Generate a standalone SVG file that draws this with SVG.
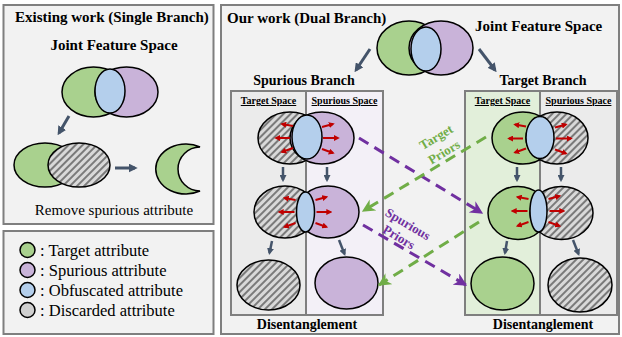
<svg xmlns="http://www.w3.org/2000/svg" xmlns:xlink="http://www.w3.org/1999/xlink" width="622" height="337" viewBox="0 0 622 337">
<style>
  .panel{fill:#f2f2f2;stroke:#7f7f7f;stroke-width:2}
  .e{stroke:#000;stroke-width:1.5}
  .g{fill:#a9d18e}
  .p{fill:#c9b3d9}
  .b{fill:#b4cfec}
  .h{fill:url(#hatch)}
  .gy{fill:#d0d0d0}
  .box{fill:none;stroke:#7f7f7f;stroke-width:2}
  text{font-family:"Liberation Serif","Times New Roman",serif;fill:#000}
  text.tg{fill:#70ad47}
  text.tp{fill:#7030a0}
  .bt{font-weight:bold}
  .hd{font-weight:bold;font-size:10px;text-decoration:underline;text-anchor:middle}
  .lbl{font-weight:bold;font-size:13px;text-anchor:middle}
  .slate{stroke:#44546a;stroke-width:3;fill:none;marker-end:url(#ahS)}
  .slates{stroke:#44546a;stroke-width:2.5;fill:none;marker-end:url(#ahSs)}
  .red{stroke:#c00000;stroke-width:2;fill:none;marker-end:url(#ahR)}
  .pd{stroke:#7030a0;stroke-width:3;stroke-dasharray:11 7;fill:none;marker-end:url(#ahP)}
  .gd{stroke:#70ad47;stroke-width:3;stroke-dasharray:11 7;fill:none;marker-end:url(#ahG)}
</style>
<defs>
  <pattern id="hatch" width="5" height="5" patternUnits="userSpaceOnUse" patternTransform="rotate(45)">
    <rect width="5" height="5" fill="#d9d9d9"/>
    <line x1="1" y1="0" x2="1" y2="5" stroke="#7a7a7a" stroke-width="2"/>
  </pattern>
  <marker id="ahS" viewBox="0 0 10 10" refX="7" refY="5" markerWidth="9" markerHeight="9" markerUnits="userSpaceOnUse" orient="auto"><path d="M0,0 L10,5 L0,10 z" fill="#44546a"/></marker>
  <marker id="ahSs" viewBox="0 0 10 10" refX="7" refY="5" markerWidth="7" markerHeight="7" markerUnits="userSpaceOnUse" orient="auto"><path d="M0,0 L10,5 L0,10 z" fill="#44546a"/></marker>
  <marker id="ahR" viewBox="0 0 10 10" refX="7" refY="5" markerWidth="6" markerHeight="6" markerUnits="userSpaceOnUse" orient="auto"><path d="M0,0 L10,5 L0,10 z" fill="#c00000"/></marker>
  <marker id="ahP" viewBox="0 0 10 10" refX="9" refY="5" markerWidth="13" markerHeight="13" markerUnits="userSpaceOnUse" orient="auto"><path d="M0,0 L10,5 L0,10 L3,5 z" fill="#7030a0"/></marker>
  <marker id="ahG" viewBox="0 0 10 10" refX="9" refY="5" markerWidth="13" markerHeight="13" markerUnits="userSpaceOnUse" orient="auto"><path d="M0,0 L10,5 L0,10 L3,5 z" fill="#70ad47"/></marker>
  <g id="redA">
    <path class="red" d="M-14,-11 L-25,-13"/><path class="red" d="M-17,1 L-31,1"/><path class="red" d="M-14,11 L-25,15"/>
    <path class="red" d="M15,-10 L26,-13"/><path class="red" d="M16,1 L31,1"/><path class="red" d="M15,12 L26,16"/>
  </g>
  <g id="redB">
    <path class="red" d="M-10,-12 L-21,-14"/><path class="red" d="M-11,0 L-26,0"/><path class="red" d="M-10,11 L-21,15"/>
    <path class="red" d="M10,-12 L21,-15"/><path class="red" d="M11,0 L25,0"/><path class="red" d="M10,11 L21,15"/>
  </g>
</defs>

<!-- Left panel: existing work -->
<g id="panel-existing">
  <rect class="panel" x="3.5" y="5" width="210" height="219"/>
  <text class="bt" x="15" y="22" font-size="15">Existing work (Single Branch)</text>
  <text class="bt" x="114" y="50" font-size="15" text-anchor="middle">Joint Feature Space</text>
  <text x="114" y="215" font-size="15" text-anchor="middle">Remove spurious attribute</text>
</g>
<g id="existing-joint">
  <ellipse class="e g" cx="93.5" cy="92" rx="31.5" ry="25"/>
  <ellipse class="e p" cx="126.5" cy="92" rx="31.5" ry="25"/>
  <ellipse class="e b" cx="110" cy="91" rx="15" ry="22"/>
</g>
<g id="existing-split">
  <ellipse class="e g" cx="45" cy="165" rx="31" ry="22"/>
  <ellipse class="e h" cx="79" cy="165" rx="31" ry="22"/>
</g>
<g id="existing-result">
  <path class="e g" d="M200,147 A30,25 0 1,0 200,191 A22,22 0 0,1 200,147 Z"/>
</g>

<!-- Legend -->
<g id="legend">
  <rect class="panel" x="3.5" y="231" width="210" height="103"/>
  <circle class="e g" cx="27.5" cy="250" r="7.5"/>
  <circle class="e p" cx="27.5" cy="270" r="7.5"/>
  <circle class="e b" cx="27.5" cy="290" r="7.5"/>
  <circle class="e gy" cx="27.5" cy="310" r="7.5"/>
  <text x="40" y="255.5" font-size="16.5">: Target attribute</text>
  <text x="40" y="275.5" font-size="16.5">: Spurious attribute</text>
  <text x="40" y="295.5" font-size="16.5">: Obfuscated attribute</text>
  <text x="40" y="315.5" font-size="16.5">: Discarded attribute</text>
</g>

<!-- Right panel: our work -->
<g id="panel-ours">
  <rect class="panel" x="221" y="5" width="398" height="329"/>
  <text class="bt" x="227" y="23" font-size="15">Our work (Dual Branch)</text>
  <text class="bt" x="475" y="31" font-size="15">Joint Feature Space</text>
</g>
<g id="ours-joint">
  <ellipse class="e g" cx="409" cy="48" rx="32" ry="27"/>
  <ellipse class="e p" cx="441" cy="48" rx="32" ry="27"/>
  <ellipse class="e b" cx="426" cy="49" rx="15" ry="22"/>
</g>

<!-- Spurious branch -->
<g id="spurious-branch">
  <text class="bt" x="304" y="85" font-size="14" text-anchor="middle">Spurious Branch</text>
  <rect x="231" y="91" width="75" height="224" fill="#ebebeb"/>
  <rect x="306" y="91" width="77" height="224" fill="#f3f0f7"/>
  <line x1="306" y1="91" x2="306" y2="315" stroke="#7f7f7f" stroke-width="2"/>
  <rect class="box" x="231" y="91" width="152" height="224"/>
  <text class="hd" x="268.5" y="104">Target Space</text>
  <text class="hd" x="344.5" y="104">Spurious Space</text>
  <text class="bt" x="307" y="329" font-size="14" text-anchor="middle">Disentanglement</text>
</g>
<g id="sb-row1">
  <ellipse class="e h" cx="290" cy="138" rx="32" ry="26"/>
  <ellipse class="e p" cx="322" cy="138" rx="32" ry="26"/>
  <ellipse class="e b" cx="307" cy="137" rx="15" ry="22"/>
  <use xlink:href="#redA" x="307" y="137"/>
</g>
<g id="sb-row2">
  <ellipse class="e h" cx="285" cy="212" rx="31" ry="26"/>
  <ellipse class="e p" cx="328" cy="212" rx="31" ry="26"/>
  <ellipse class="e b" cx="305.5" cy="212" rx="9" ry="20"/>
  <use xlink:href="#redB" x="305.5" y="212"/>
</g>
<g id="sb-row3">
  <ellipse class="e h" cx="268.5" cy="285" rx="31.5" ry="25"/>
  <ellipse class="e p" cx="346.5" cy="283" rx="31.5" ry="26"/>
</g>

<!-- Target branch -->
<g id="target-branch">
  <text class="bt" x="543" y="85" font-size="14" text-anchor="middle">Target Branch</text>
  <rect x="465" y="91" width="75" height="224" fill="#e2efda"/>
  <rect x="540" y="91" width="77" height="224" fill="#ebebeb"/>
  <line x1="540" y1="91" x2="540" y2="315" stroke="#7f7f7f" stroke-width="2"/>
  <rect class="box" x="465" y="91" width="152" height="224"/>
  <text class="hd" x="502.5" y="104">Target Space</text>
  <text class="hd" x="578.5" y="104">Spurious Space</text>
  <text class="bt" x="543" y="329" font-size="14" text-anchor="middle">Disentanglement</text>
</g>
<g id="tb-row1">
  <ellipse class="e g" cx="523" cy="138" rx="31" ry="26"/>
  <ellipse class="e h" cx="557" cy="138" rx="31" ry="26"/>
  <ellipse class="e b" cx="540" cy="137.5" rx="14" ry="21"/>
  <use xlink:href="#redA" x="540" y="137.5"/>
</g>
<g id="tb-row2">
  <ellipse class="e g" cx="518" cy="213" rx="30" ry="26.5"/>
  <ellipse class="e h" cx="561.5" cy="213" rx="31.5" ry="26.5"/>
  <ellipse class="e b" cx="538.5" cy="211" rx="8.5" ry="21"/>
  <use xlink:href="#redB" x="538.5" y="211"/>
</g>
<g id="tb-row3">
  <ellipse class="e g" cx="502.5" cy="283.5" rx="31.5" ry="26.5"/>
  <ellipse class="e h" cx="580" cy="285" rx="32" ry="27"/>
</g>

<!-- Connectors -->
<g id="connectors">
  <path class="slate" d="M69,116 L59,133"/>
  <path class="slate" d="M115,168 L135,168"/>
  <path class="slate" d="M370,49 L356,70"/>
  <path class="slate" d="M479,49 L495,70"/>
  <path class="slates" d="M283,167 L283,180"/>
  <path class="slates" d="M327,167 L327,180"/>
  <path class="slates" d="M272,241 L269.5,253"/>
  <path class="slates" d="M339,240 L344.5,254"/>
  <path class="slates" d="M517,167 L517,180"/>
  <path class="slates" d="M561,167 L561,180"/>
  <path class="slates" d="M507,241 L505,253"/>
  <path class="slates" d="M573,240 L578.5,254"/>
  <path class="pd" d="M359,138 L482,213"/>
  <path class="pd" d="M363,225 L466,285"/>
  <path class="gd" d="M486,137 L363,211"/>
  <path class="gd" d="M479,222 L379,285"/>
  <text class="lbl tg" transform="translate(436,137) rotate(-31)" y="4.5">Target</text>
  <text class="lbl tg" transform="translate(444,152) rotate(-31)" y="4.5">Priors</text>
  <text class="lbl tp" transform="translate(408,224) rotate(31)" y="4.5">Spurious</text>
  <text class="lbl tp" transform="translate(399,237) rotate(31)" y="4.5">Priors</text>
</g>
</svg>
